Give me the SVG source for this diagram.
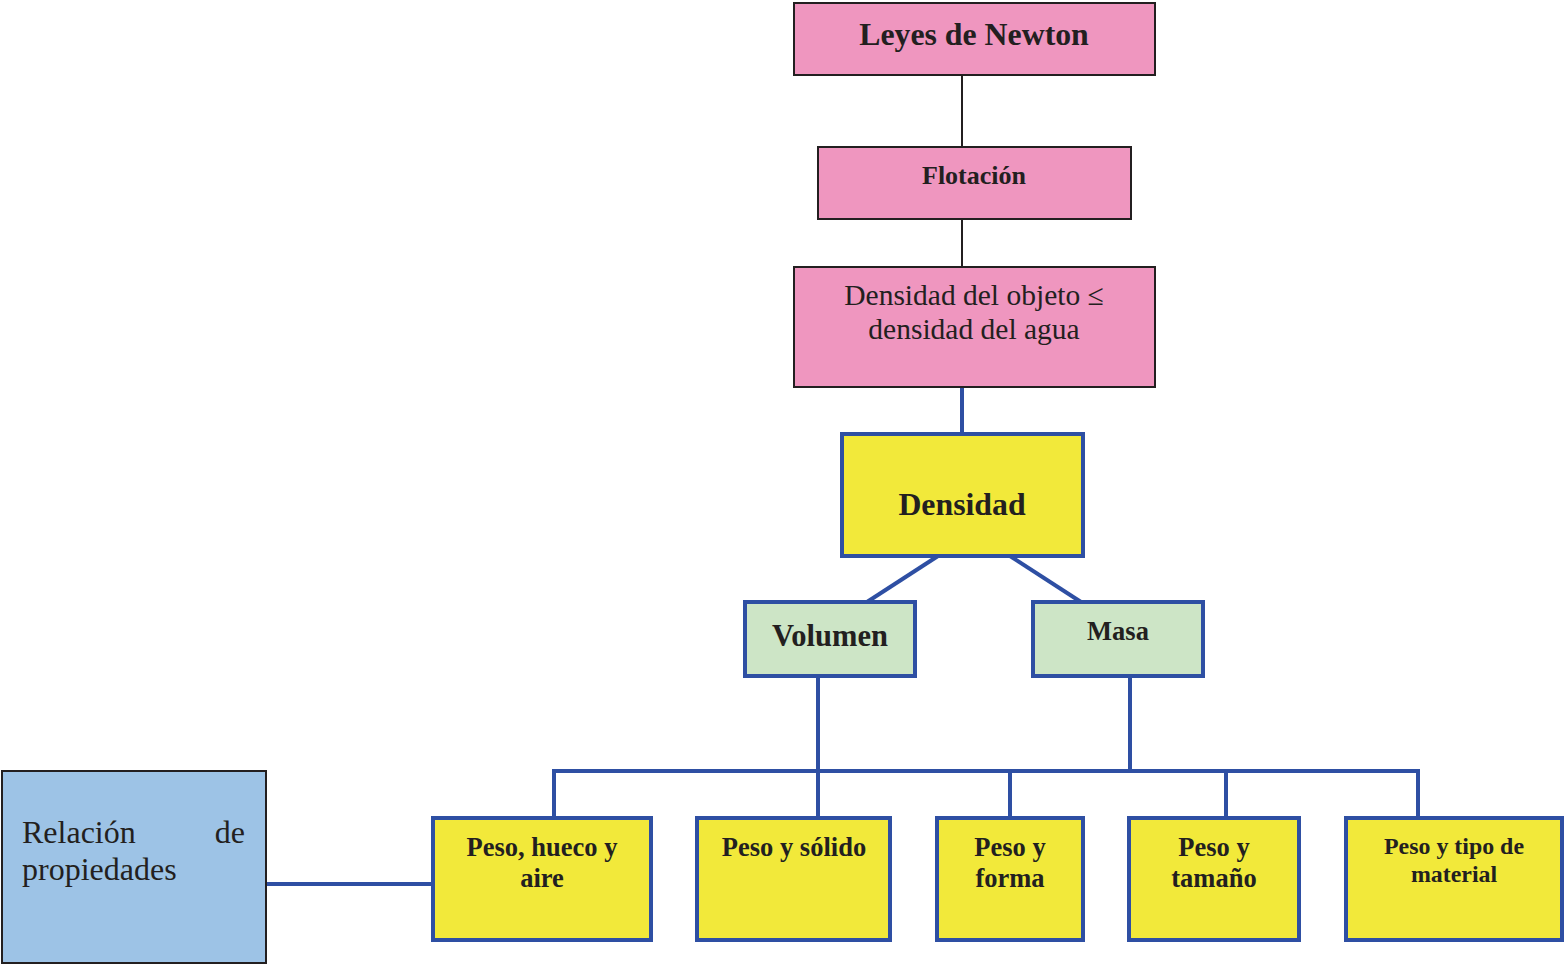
<svg xmlns="http://www.w3.org/2000/svg" width="1564" height="964" viewBox="0 0 1564 964">
  <style>
    .pink { fill: #EF96BF; stroke: #231F20; stroke-width: 2; }
    .yellow { fill: #F2E93A; stroke: #2E4FA3; stroke-width: 4; }
    .green { fill: #CDE5C6; stroke: #2E4FA3; stroke-width: 4; }
    .blue { fill: #9DC3E6; stroke: #231F20; stroke-width: 2; }
    .thin { stroke: #231F20; stroke-width: 2; fill: none; }
    .thick { stroke: #2E4FA3; stroke-width: 4; fill: none; }
    text { font-family: "Liberation Serif", "Times New Roman", serif; fill: #231F20; }
    .b { font-weight: bold; text-anchor: middle; }
    .r { text-anchor: middle; }
    .leaf { font-size: 26.5px; }
  </style>

  <g id="connectors">
    <line class="thin" x1="962" y1="75" x2="962" y2="147"/>
    <line class="thin" x1="962" y1="219" x2="962" y2="267"/>
    <line class="thick" x1="962" y1="387" x2="962" y2="434"/>
    <line class="thick" x1="938" y1="556" x2="867" y2="602"/>
    <line class="thick" x1="1010" y1="556" x2="1081" y2="602"/>
    <line class="thick" x1="818" y1="676" x2="818" y2="818"/>
    <line class="thick" x1="1130" y1="676" x2="1130" y2="771"/>
    <line class="thick" x1="554" y1="771" x2="1418" y2="771"/>
    <line class="thick" x1="554" y1="769" x2="554" y2="818"/>
    <line class="thick" x1="1010" y1="771" x2="1010" y2="818"/>
    <line class="thick" x1="1226" y1="771" x2="1226" y2="818"/>
    <line class="thick" x1="1418" y1="769" x2="1418" y2="818"/>
    <line class="thick" x1="266" y1="884" x2="433" y2="884"/>
  </g>

  <g id="leyes">
    <rect class="pink" x="794" y="3" width="361" height="72"/>
    <text class="b" x="974" y="45" font-size="31.8">Leyes de Newton</text>
  </g>

  <g id="flotacion">
    <rect class="pink" x="818" y="147" width="313" height="72"/>
    <text class="b" x="974" y="184" font-size="26">Flotación</text>
  </g>

  <g id="condicion">
    <rect class="pink" x="794" y="267" width="361" height="120"/>
    <text class="r" x="974" y="305" font-size="29.5">Densidad del objeto ≤</text>
    <text class="r" x="974" y="339" font-size="29.5">densidad del agua</text>
  </g>

  <g id="densidad">
    <rect class="yellow" x="842" y="434" width="241" height="122"/>
    <text class="b" x="962" y="515" font-size="31.8">Densidad</text>
  </g>

  <g id="volumen">
    <rect class="green" x="745" y="602" width="170" height="74"/>
    <text class="b" x="830" y="646" font-size="30.5">Volumen</text>
  </g>

  <g id="masa">
    <rect class="green" x="1033" y="602" width="170" height="74"/>
    <text class="b" x="1118" y="640" font-size="26.5">Masa</text>
  </g>

  <g id="relacion">
    <rect class="blue" x="2" y="771" width="264" height="192"/>
    <text x="22" y="843" font-size="32">Relación</text>
    <text x="245" y="843" font-size="32" text-anchor="end">de</text>
    <text x="22" y="880" font-size="32">propiedades</text>
  </g>

  <g id="hueco">
    <rect class="yellow" x="433" y="818" width="218" height="122"/>
    <text class="b leaf" x="542" y="856">Peso, hueco y</text>
    <text class="b leaf" x="542" y="887">aire</text>
  </g>

  <g id="solido">
    <rect class="yellow" x="697" y="818" width="193" height="122"/>
    <text class="b leaf" x="794" y="856">Peso y sólido</text>
  </g>

  <g id="forma">
    <rect class="yellow" x="937" y="818" width="146" height="122"/>
    <text class="b leaf" x="1010" y="856">Peso y</text>
    <text class="b leaf" x="1010" y="887">forma</text>
  </g>

  <g id="tamano">
    <rect class="yellow" x="1129" y="818" width="170" height="122"/>
    <text class="b leaf" x="1214" y="856">Peso y</text>
    <text class="b leaf" x="1214" y="887">tamaño</text>
  </g>

  <g id="material">
    <rect class="yellow" x="1346" y="818" width="216" height="122"/>
    <text class="b" x="1454" y="854" font-size="23.9">Peso y tipo de</text>
    <text class="b" x="1454" y="882" font-size="23.9">material</text>
  </g>
</svg>
